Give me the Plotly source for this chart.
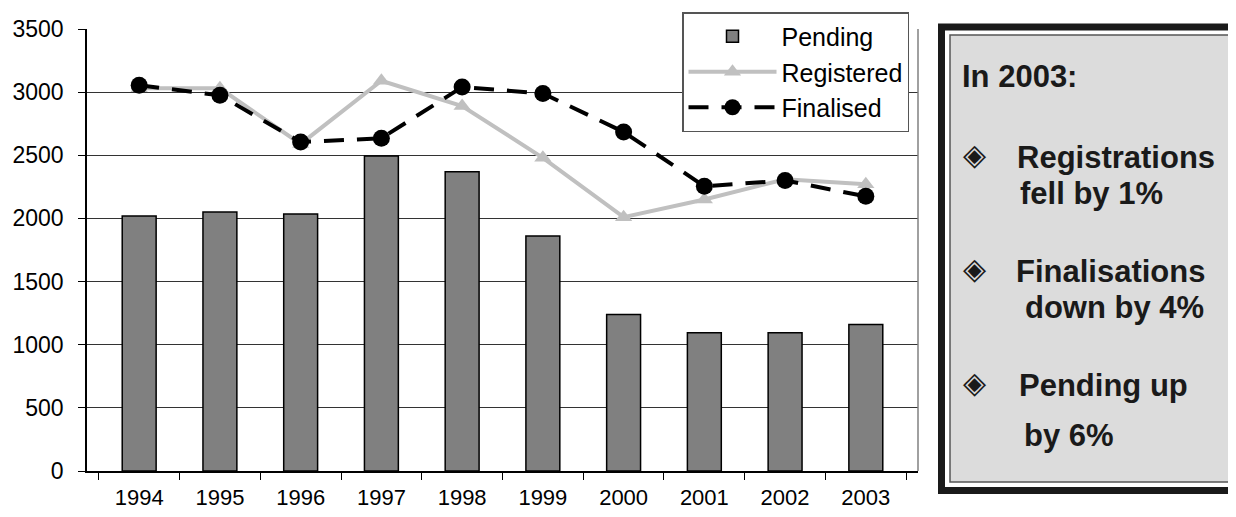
import plotly.graph_objects as go

years = ["1994", "1995", "1996", "1997", "1998", "1999", "2000", "2001", "2002", "2003"]
pending = [2020, 2050, 2035, 2495, 2370, 1860, 1240, 1095, 1095, 1160]
registered = [3030, 3030, 2590, 3090, 2890, 2480, 2010, 2150, 2310, 2270]
finalised = [3055, 2975, 2605, 2635, 3040, 2990, 2685, 2255, 2300, 2175]

y_ticks = [0, 500, 1000, 1500, 2000, 2500, 3000, 3500]

box_title = "In 2003:"
box_lines = [
    ("Registrations", "fell by 1%"),
    ("Finalisations", "down by 4%"),
    ("Pending up", "by 6%"),
]

OFF = 8  # default page body margin
W, H = 1236 - OFF, 517 - OFF
# plot-area edges in screen pixels
L, R, T, B = 87, 918, 29, 471
FONT = "Liberation Sans, Arial, sans-serif"


def px(x):
    return (x - L) / (R - L)


def py(y):
    return (B - y) / (B - T)


fig = go.Figure()
fig.add_trace(go.Bar(
    x=years, y=pending, name="Pending",
    marker=dict(color="#808080", line=dict(color="black", width=1.5)),
    width=0.42,
))
fig.add_trace(go.Scatter(
    x=years, y=registered, name="Registered", mode="lines+markers",
    line=dict(color="#c0c0c0", width=4),
    marker=dict(symbol="triangle-up", size=15, color="#c0c0c0"),
))
fig.add_trace(go.Scatter(
    x=years, y=finalised, name="Finalised", mode="lines+markers",
    line=dict(color="black", width=4, dash="20px,13px"),
    marker=dict(symbol="circle", size=17, color="black"),
))

shapes = [
    dict(type="line", xref="paper", yref="paper", x0=1, x1=1, y0=0, y1=1,
         line=dict(color="#808080", width=1.5)),
    dict(type="rect", xref="paper", yref="paper",
         x0=px(941.5), x1=px(1260), y0=py(27), y1=py(490.5),
         line=dict(color="#1a1a1a", width=7), fillcolor="white", layer="above"),
    dict(type="rect", xref="paper", yref="paper",
         x0=px(950), x1=px(1232), y0=py(35), y1=py(482),
         line=dict(color="#555555", width=1.5), fillcolor="#dcdcdc", layer="above"),
]

BOX_FONT = dict(family=FONT, size=31, color="#1a1a1a", weight="bold")
annotations = [
    dict(text=box_title, xref="paper", yref="paper", x=px(960), y=py(77),
         xanchor="left", yanchor="middle", showarrow=False, font=BOX_FONT),
]
rows = [(155, 191, 1015, 1018), (269, 305, 1014, 1023), (383, 433, 1017, 1022)]
for (first, second), (y1, y2, x1, x2) in zip(box_lines, rows):
    annotations.append(dict(text="◈", xref="paper", yref="paper", x=px(974), y=py(y1 - 1),
                            xanchor="center", yanchor="middle", showarrow=False,
                            font=dict(family="DejaVu Sans", size=30, color="#1a1a1a")))
    annotations.append(dict(text=first, xref="paper", yref="paper", x=px(x1), y=py(y1 + 2),
                            xanchor="left", yanchor="middle", showarrow=False, font=BOX_FONT))
    annotations.append(dict(text=second, xref="paper", yref="paper", x=px(x2), y=py(y2 + 2),
                            xanchor="left", yanchor="middle", showarrow=False, font=BOX_FONT))

fig.update_layout(
    width=W, height=H, autosize=False,
    margin=dict(l=L - OFF, r=W + OFF - R, t=T - OFF, b=H + OFF - B, pad=0, autoexpand=False),
    paper_bgcolor="white", plot_bgcolor="white",
    font=dict(family=FONT, size=21, color="black"),
    bargap=0.58,
    showlegend=True,
    legend=dict(
        xref="container", yref="container",
        x=(682 - OFF) / W, y=1 - (12 - OFF) / H, xanchor="left", yanchor="top",
        bgcolor="white", bordercolor="#555555", borderwidth=1.5,
        font=dict(family=FONT, size=25, color="black"),
        traceorder="normal", itemwidth=88,
    ),
    xaxis=dict(
        type="category", showgrid=False, showline=True, linecolor="black", linewidth=1.5,
        ticks="outside", tickson="boundaries", ticklen=7, tickcolor="black",
        tickfont=dict(family=FONT, size=22), zeroline=False, ticklabelstandoff=6,
        automargin=False,
    ),
    yaxis=dict(
        range=[0, 3500], tickvals=y_ticks, showgrid=True, gridcolor="#333333", gridwidth=1,
        showline=True, linecolor="black", linewidth=1.5, ticks="outside", ticklen=7,
        tickcolor="black", tickfont=dict(family=FONT, size=23), zeroline=False,
        ticklabelstandoff=10, automargin=False,
    ),
    shapes=shapes,
    annotations=annotations,
)

fig.write_html("out.html")
